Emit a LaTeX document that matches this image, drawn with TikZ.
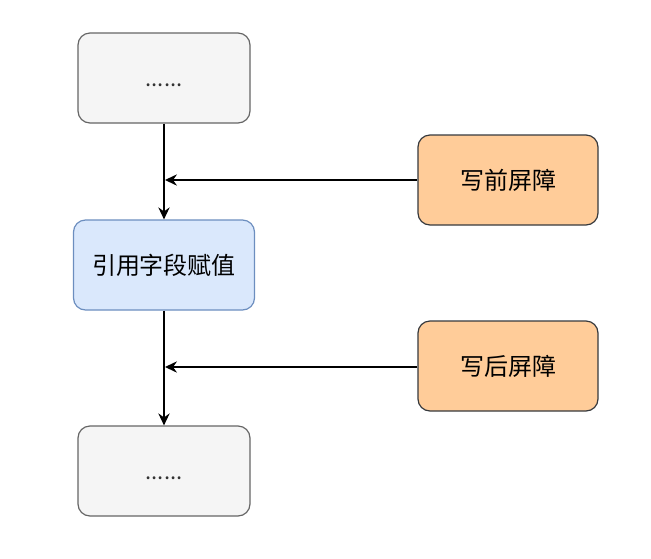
\documentclass[tikz,border=0pt]{standalone}
\usepackage{fontspec}
\setmainfont{Noto Sans CJK SC}
\usetikzlibrary{arrows.meta}
\definecolor{greyfill}{HTML}{F5F5F5}
\definecolor{greyline}{HTML}{666666}
\definecolor{bluefill}{HTML}{DAE8FC}
\definecolor{blueline}{HTML}{6C8EBF}
\definecolor{orangefill}{HTML}{FFCC99}
\definecolor{orangeline}{HTML}{36393D}
\definecolor{dottext}{HTML}{333333}
\tikzset{
  box/.style={rounded corners=9pt, line width=0.9pt, minimum height=67.5pt, inner sep=0pt, font=\fontsize{18pt}{21pt}\selectfont},
  greybox/.style={box, draw=greyline, fill=greyfill, text=dottext, minimum width=129pt, font=\fontsize{16.5pt}{20pt}\selectfont, text height=12pt, text depth=0pt},
  bluebox/.style={box, draw=blueline, fill=bluefill, minimum width=135.75pt},
  orangebox/.style={box, draw=orangeline, fill=orangefill, minimum width=135pt},
  conn/.style={line width=1pt, -{Stealth[length=9pt,width=8.5pt,inset=3pt]}}
}
\begin{document}
\begin{tikzpicture}[x=0.75pt,y=-0.75pt]
\useasboundingbox (0,0) rectangle (651,558);
\node[greybox] (top) at (164,78) {......};
\node[bluebox] (mid) at (164,265) {引用字段赋值};
\node[greybox] (bot) at (164,471) {......};
\node[orangebox] (wb1) at (508,180) {写前屏障};
\node[orangebox] (wb2) at (508,366) {写后屏障};
\coordinate (j1) at (165,180);
\coordinate (j2) at (165,367);
\draw[conn] (top) -- (mid);
\draw[conn] (mid) -- (bot);
\draw[conn] (wb1) -- (j1);
\draw[conn] (wb2.west |- j2) -- (j2);
\end{tikzpicture}
\end{document}
